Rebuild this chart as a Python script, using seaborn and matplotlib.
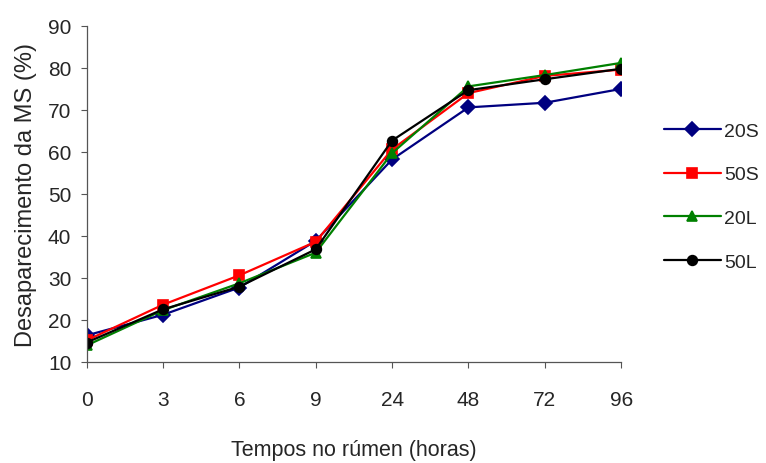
import pandas as pd
import matplotlib
matplotlib.use('Agg')
import matplotlib.pyplot as plt
import seaborn as sns

# Data
tempos = ['0', '3', '6', '9', '24', '48', '72', '96']
tratamentos = ['20S', '50S', '20L', '50L']
v_20S = [16.3, 21.2, 27.7, 38.8, 58.2, 70.6, 71.7, 75.0]
v_50S = [15.1, 23.6, 30.6, 38.6, 60.6, 74.0, 78.1, 79.6]
v_20L = [13.9, 22.3, 28.7, 36.0, 59.7, 75.6, 78.3, 81.2]
v_50L = [14.6, 22.5, 27.9, 36.8, 62.7, 74.7, 77.3, 79.8]

cores = ['#000080', '#FF0000', '#008000', '#000000']
marcadores = ['D', 's', '^', 'o']

# Long-form dataframe
df = pd.DataFrame({
    'Tempo': tempos * 4,
    'Valor': v_20S + v_50S + v_20L + v_50L,
    'Trat': [t for t in tratamentos for _ in tempos],
})

sns.set_style('white')
plt.rcParams['font.family'] = ['Liberation Sans', 'DejaVu Sans']

fig = plt.figure(figsize=(7.66, 4.64), dpi=100)
ax = fig.add_axes([0.113, 0.218, 0.698, 0.724])

sns.pointplot(data=df, x='Tempo', y='Valor', hue='Trat', order=tempos,
              hue_order=tratamentos, palette=cores, markers=marcadores,
              linestyles='-', errorbar=None, ax=ax,
              markersize=7, linewidth=1.6)

ax.set_xlim(0, len(tempos) - 1)
ax.set_ylim(10, 90)
ax.set_yticks(range(10, 91, 10))
ax.tick_params(axis='both', labelsize=15, direction='out', length=4,
               width=0.8, color='#555555', left=True, bottom=True)
ax.tick_params(axis='x', pad=16)
ax.tick_params(axis='y', pad=7)
sns.despine(ax=ax)
for s in ['left', 'bottom']:
    ax.spines[s].set_color('#555555')
    ax.spines[s].set_linewidth(0.9)

ax.set_xlabel('Tempos no rúmen (horas)', fontsize=15.5, labelpad=22)
ax.set_ylabel('Desaparecimento da MS (%)', fontsize=17, labelpad=8)

handles, labels = ax.get_legend_handles_labels()
ax.legend(handles, labels, loc='upper left', bbox_to_anchor=(0.867, 0.735),
          bbox_transform=fig.transFigure, frameon=False, fontsize=14,
          borderpad=0, borderaxespad=0,
          handlelength=2.9, labelspacing=1.35, handletextpad=0.2)

fig.savefig('out.png', dpi=100)
